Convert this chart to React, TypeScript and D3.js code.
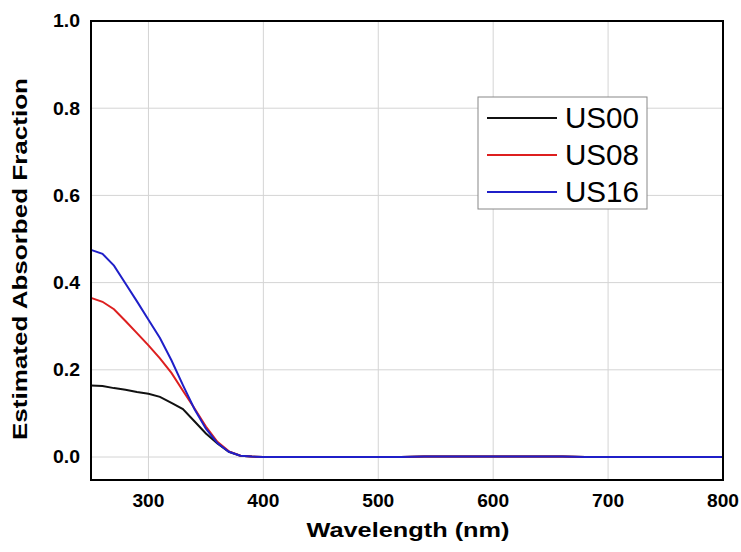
import React, { useEffect } from 'react';
import { scaleLinear, line } from 'd3';

const wavelengths = [250, 260, 270, 280, 290, 300, 310, 320, 330, 340, 350, 360, 370, 380, 390, 400,
  420, 440, 460, 480, 500, 520, 540, 560, 580, 600, 620, 640, 660, 680, 700, 720, 740, 760, 780, 800];
const us00 = [0.164, 0.163, 0.158, 0.154, 0.149, 0.145, 0.138, 0.124, 0.110, 0.082, 0.054, 0.031, 0.012, 0.003, 0.001, 0,
  0, 0, 0, 0, 0, 0, 0.001, 0.001, 0.001, 0.001, 0.001, 0.001, 0.001, 0, 0, 0, 0, 0, 0, 0];
const us08 = [0.365, 0.356, 0.339, 0.312, 0.284, 0.256, 0.226, 0.193, 0.152, 0.112, 0.07, 0.035, 0.013, 0.003, 0.001, 0,
  0, 0, 0, 0, 0, 0, 0.001, 0.001, 0.001, 0.001, 0.001, 0.001, 0.001, 0, 0, 0, 0, 0, 0, 0];
const us16 = [0.475, 0.466, 0.439, 0.398, 0.357, 0.315, 0.273, 0.222, 0.165, 0.11, 0.065, 0.032, 0.012, 0.003, 0.001, 0,
  0, 0, 0, 0, 0, 0, 0.001, 0.001, 0.001, 0.001, 0.001, 0.001, 0.001, 0, 0, 0, 0, 0, 0, 0];

const seriesNames = ['US00', 'US08', 'US16'];
const seriesColors = ['#111111', '#dd1f1f', '#1f1fc8'];
const xTicks = [300, 400, 500, 600, 700, 800];
const yTicks = [0.0, 0.2, 0.4, 0.6, 0.8, 1.0];

const App = () => {
  useEffect(() => {
    document.body.style.margin = '0';
  }, []);

  const left = 91, right = 723, top = 21, bottom = 480;
  const x = scaleLinear().domain([250, 800]).range([left, right]);
  const y = scaleLinear().domain([0, 1]).range([457, top]);
  const allSeries = [us00, us08, us16];
  const font = 'Arial, "Liberation Sans", sans-serif';

  const makeLine = line<number>()
    .x((d, i) => x(wavelengths[i]))
    .y(d => y(d));

  const legendX = 478, legendY = 97;

  return (
    <svg width={741} height={552} style={{ display: 'block', background: '#fff' }} fontFamily={font}>
      {xTicks.filter(t => t < 800).map(t => (
        <line key={'gx' + t} x1={x(t)} x2={x(t)} y1={top} y2={bottom} stroke="#d4d4d4" strokeWidth={1} />
      ))}
      {yTicks.filter(t => t < 1).map(t => (
        <line key={'gy' + t} x1={left} x2={right} y1={y(t)} y2={y(t)} stroke="#d4d4d4" strokeWidth={1} />
      ))}
      {allSeries.map((s, i) => (
        <path key={seriesNames[i]} d={makeLine(s) || ''} fill="none" stroke={seriesColors[i]} strokeWidth={2} />
      ))}
      <rect x={left} y={top} width={right - left} height={bottom - top} fill="none" stroke="#000" strokeWidth={2} />
      {yTicks.map(t => (
        <text key={'ty' + t} x={80} y={y(t)} dy="0.36em" textAnchor="end" fontSize={18} fontWeight="bold"
          textLength={27} lengthAdjust="spacingAndGlyphs">
          {t.toFixed(1)}
        </text>
      ))}
      {xTicks.map(t => (
        <text key={'tx' + t} x={x(t)} y={501} dy="0.36em" textAnchor="middle" fontSize={18} fontWeight="bold"
          textLength={32} lengthAdjust="spacingAndGlyphs">
          {t}
        </text>
      ))}
      <text x={408} y={537} textAnchor="middle" fontSize={20} fontWeight="bold"
        textLength={203} lengthAdjust="spacingAndGlyphs">Wavelength (nm)</text>
      <text transform="translate(27,259) rotate(-90)" textAnchor="middle" fontSize={20} fontWeight="bold"
        textLength={362} lengthAdjust="spacingAndGlyphs">
        Estimated Absorbed Fraction
      </text>
      <g>
        <rect x={legendX} y={legendY} width={169} height={112} fill="#fff" stroke="#888" strokeWidth={1} />
        {seriesNames.map((n, i) => (
          <g key={'lg' + n}>
            <line x1={487} x2={557} y1={118 + i * 37} y2={118 + i * 37} stroke={seriesColors[i]} strokeWidth={2} />
            <text x={565} y={118 + i * 37} dy="0.35em" fontSize={29} textLength={74} lengthAdjust="spacingAndGlyphs">{n}</text>
          </g>
        ))}
      </g>
    </svg>
  );
};

export default App;
